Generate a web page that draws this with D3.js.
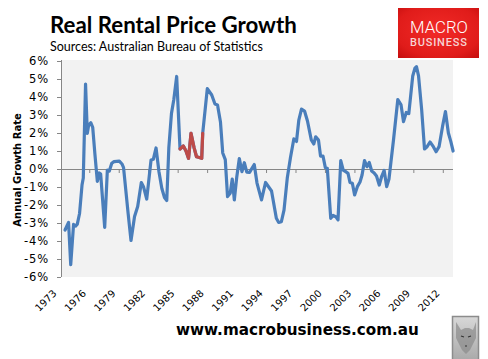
<!DOCTYPE html>
<html>
<head>
<meta charset="utf-8">
<script src="https://cdn.jsdelivr.net/npm/d3@7"></script>
<style>
  html, body { margin: 0; padding: 0; background: #ffffff; }
  svg { display: block; }
</style>
</head>
<body>
<svg id="chart" width="488" height="359"></svg>
<script>
// ---- Data (decimal year of each vertex, annual growth %) ----
const dates = [
  1973.53,1973.89,1974.11,1974.40,1974.60,1974.78,1975.01,1975.26,1975.39,1975.62,
  1975.80,1975.94,1976.15,1976.35,1976.58,1976.82,1977.02,1977.16,1977.57,1977.84,
  1978.04,1978.29,1978.52,1979.06,1979.33,1979.49,1979.95,1980.25,1980.61,1980.93,
  1981.30,1981.52,1981.85,1982.29,1982.52,1982.80,1983.10,1983.39,1983.66,1983.89,
  1984.10,1984.37,1984.61,1984.90,1985.24,1985.58,1985.85,1986.11,1986.36,1986.67,
  1986.92,1987.21,1987.45,1987.55,1988.02,1988.47,1988.80,1989.06,1989.36,1989.59,
  1989.85,1990.08,1990.35,1990.56,1990.77,1991.02,1991.28,1991.55,1991.79,1992.04,
  1992.32,1992.80,1993.08,1993.54,1993.95,1994.56,1995.05,1995.29,1995.56,1995.83,
  1996.17,1996.49,1996.83,1997.10,1997.34,1997.61,1997.92,1998.22,1998.61,1998.86,
  1999.06,1999.34,1999.55,1999.80,2000.04,2000.24,2000.59,2000.83,2001.10,2001.33,
  2001.61,2001.86,2002.11,2002.35,2002.55,2002.79,2003.02,2003.30,2003.57,2003.78,
  2004.03,2004.28,2004.51,2004.76,2005.01,2005.25,2005.53,2005.79,2006.03,2006.29,
  2006.52,2006.72,2006.98,2007.42,2007.75,2008.00,2008.28,2008.54,2008.94,2009.17,
  2009.32,2009.53,2009.85,2010.14,2010.37,2010.70,2011.04,2011.32,2011.62,2012.00,
  2012.27,2012.57,2012.82,2013.05
];
const growth = [
  -3.39,-2.97,-5.31,-3.08,-3.17,-3.06,-2.47,-0.89,-0.50,4.72,
  1.98,2.44,2.57,2.31,0.78,-0.69,-0.22,-0.28,-3.24,-0.06,
  -0.11,0.32,0.41,0.44,0.28,0.08,-2.44,-3.97,-2.64,-2.08,
  -0.75,-0.98,-1.67,0.50,0.54,1.17,-0.17,-1.08,-1.58,-1.75,
  1.17,3.09,3.86,5.14,1.11,1.28,1.00,0.59,1.98,1.19,
  0.68,0.64,0.59,1.98,4.47,4.11,3.61,3.56,2.61,0.89,
  0.52,-1.53,-1.35,-0.56,-1.72,-0.44,0.58,-0.15,0.35,-0.17,
  -0.19,0.25,-0.78,-1.72,-0.75,-1.22,-2.74,-2.97,-2.93,-2.28,
  -0.47,0.64,1.67,1.53,2.72,3.33,3.22,2.67,1.61,1.39,
  1.79,1.61,0.72,0.72,0.08,0.04,-2.74,-2.58,-2.65,-2.83,
  0.47,-0.06,-0.15,-0.24,-0.75,-0.79,-1.44,-0.98,-0.72,-0.33,
  0.47,0.13,0.36,-0.11,-0.22,-0.39,-0.89,-0.39,-0.08,-0.98,
  -0.56,0.39,1.61,3.86,3.56,2.63,3.14,3.08,5.17,5.61,
  5.69,5.17,3.28,1.11,1.22,1.50,1.24,0.96,1.24,2.44,
  3.19,2.00,1.52,1.00
];
const highlightPeriod = [1985.24, 1987.55];
const xTickYears = [1973,1976,1979,1982,1985,1988,1991,1994,1997,2000,2003,2006,2009,2012];
const yTicks = [-6,-5,-4,-3,-2,-1,0,1,2,3,4,5,6];

const title = "Real Rental Price Growth";
const subtitle = "Sources: Australian Bureau of Statistics";
const yTitle = "Annual Growth Rate";
const siteUrl = "www.macrobusiness.com.au";

// ---- Layout ----
const plot = { left: 61, right: 453, top: 60, bottom: 277 };
const svg = d3.select("#chart");

const x = d3.scaleLinear().domain([1973.12, 2013.04]).range([plot.left, plot.right]);
const y = d3.scaleLinear().domain([-6, 6]).range([277, 61]);

const pts = dates.map((d, i) => ({ t: d, v: growth[i] }));

// plot background
svg.append("rect")
  .attr("x", plot.left).attr("y", plot.top)
  .attr("width", plot.right - plot.left).attr("height", plot.bottom - plot.top)
  .attr("fill", "#f2f2f2");

// Y axis
const yAxis = svg.append("g")
  .attr("transform", `translate(${plot.left},0)`)
  .call(d3.axisLeft(y).tickValues(yTicks).tickFormat(d => d + "%").tickSize(4).tickSizeOuter(0).tickPadding(8));
yAxis.select(".domain").attr("stroke", "#868686").attr("d", `M0.5,${plot.top}V${plot.bottom}`);
yAxis.selectAll(".tick line").attr("stroke", "#868686");
yAxis.selectAll("text").attr("font-family", "'DejaVu Sans', Verdana, sans-serif").attr("font-size", 11.5)
  .attr("letter-spacing", 0.9).attr("fill", "#000");

// X axis ticks on zero line
const xAxis = svg.append("g")
  .attr("transform", `translate(0,${y(0)})`)
  .call(d3.axisBottom(x).tickValues(xTickYears.filter(d => x(d) > plot.left + 1)).tickFormat("").tickSize(4).tickSizeOuter(0));
xAxis.select(".domain").attr("stroke", "#868686").attr("d", `M${plot.left},0.5H${plot.right}`);
xAxis.selectAll(".tick line").attr("stroke", "#868686");

// X labels at bottom, rotated
const xLab = svg.append("g")
  .attr("transform", `translate(0,${plot.bottom})`)
  .call(d3.axisBottom(x).tickValues(xTickYears).tickFormat(d3.format("d")).tickSize(0).tickPadding(0));
xLab.select(".domain").remove();
xLab.selectAll("text")
  .attr("font-family", "'DejaVu Sans', Verdana, sans-serif").attr("font-size", 10).attr("fill", "#000")
  .attr("text-anchor", "end").attr("dy", null).attr("y", 0)
  .attr("transform", "translate(-3,17) rotate(-45)");

// Line
const line = d3.line().x(d => x(d.t)).y(d => y(d.v));
svg.append("path").datum(pts)
  .attr("d", line).attr("fill", "none").attr("stroke", "#4a7ebb")
  .attr("stroke-width", 3.2).attr("stroke-linejoin", "round").attr("stroke-linecap", "round");
svg.append("path").datum(pts.filter(p => p.t >= highlightPeriod[0] && p.t <= highlightPeriod[1]))
  .attr("d", line).attr("fill", "none").attr("stroke", "#be4b48")
  .attr("stroke-width", 3.2).attr("stroke-linejoin", "round").attr("stroke-linecap", "round");

// Y title
svg.append("text")
  .attr("transform", "translate(21,170) rotate(-90)")
  .attr("text-anchor", "middle")
  .attr("font-family", "'DejaVu Sans', Verdana, sans-serif").attr("font-weight", "bold").attr("font-size", 10)
  .attr("fill", "#000").text(yTitle);

// helper: fit text to a width
function fitText(sel, width) {
  const fs = +sel.attr("font-size");
  const w = sel.node().getComputedTextLength();
  if (w > 0) sel.attr("font-size", (fs * width / w).toFixed(2));
  return sel;
}

// Titles
fitText(svg.append("text").attr("x", 50).attr("y", 33)
  .attr("font-family", "Lato, 'Open Sans', sans-serif").attr("font-weight", "bold").attr("font-size", 22)
  .attr("fill", "#000").text(title), 247);
fitText(svg.append("text").attr("x", 50).attr("y", 51)
  .attr("font-family", "Lato, 'Open Sans', sans-serif").attr("font-size", 13)
  .attr("fill", "#000").text(subtitle), 213);

// Logo
const defs = svg.append("defs");
const grad = defs.append("radialGradient").attr("id", "logoGrad").attr("cx", "50%").attr("cy", "45%").attr("r", "75%");
grad.append("stop").attr("offset", "0%").attr("stop-color", "#f22a27");
grad.append("stop").attr("offset", "70%").attr("stop-color", "#e01c1a");
grad.append("stop").attr("offset", "100%").attr("stop-color", "#c40d0d");
svg.append("rect").attr("x", 398).attr("y", 8).attr("width", 81).attr("height", 50).attr("fill", "url(#logoGrad)");
fitText(svg.append("text").attr("x", 410).attr("y", 33)
  .attr("font-family", "Roboto, 'DejaVu Sans', sans-serif").attr("font-weight", 300).attr("font-size", 18)
  .attr("fill", "#ffffff").text("MACRO"), 58);
fitText(svg.append("text").attr("x", 410).attr("y", 46)
  .attr("font-family", "Roboto, 'DejaVu Sans', sans-serif").attr("font-weight", 500).attr("font-size", 10.5)
  .attr("letter-spacing", 0.8)
  .attr("fill", "#f6d4d4").text("BUSINESS"), 58);

// URL
fitText(svg.append("text").attr("x", 176).attr("y", 335)
  .attr("font-family", "'DejaVu Sans', Verdana, sans-serif").attr("font-weight", "bold").attr("font-size", 15)
  .attr("fill", "#000").text(siteUrl), 243);

// Wolf badge
const wg = defs.append("linearGradient").attr("id", "wolfGrad").attr("x1", 0).attr("y1", 0).attr("x2", 0).attr("y2", 1);
wg.append("stop").attr("offset", "0%").attr("stop-color", "#d8d8d8");
wg.append("stop").attr("offset", "100%").attr("stop-color", "#a9a9a9");
svg.append("rect").attr("x", 452.5).attr("y", 316.5).attr("width", 26).attr("height", 44)
  .attr("fill", "url(#wolfGrad)").attr("stroke", "#8c8c8c").attr("stroke-width", 1.5);
svg.append("path").attr("d", "M456,322 L461,330 L465,328 L469,328 L473,330 L476,322 L476,338 L470,350 L466,354 L462,350 L456,338 Z")
  .attr("fill", "#8a8a8a").attr("opacity", 0.7);
svg.append("path").attr("d", "M461,336 L464,337 M468,337 L471,336 M465,346 L467,346")
  .attr("stroke", "#333").attr("stroke-width", 1.2);
</script>
</body>
</html>
